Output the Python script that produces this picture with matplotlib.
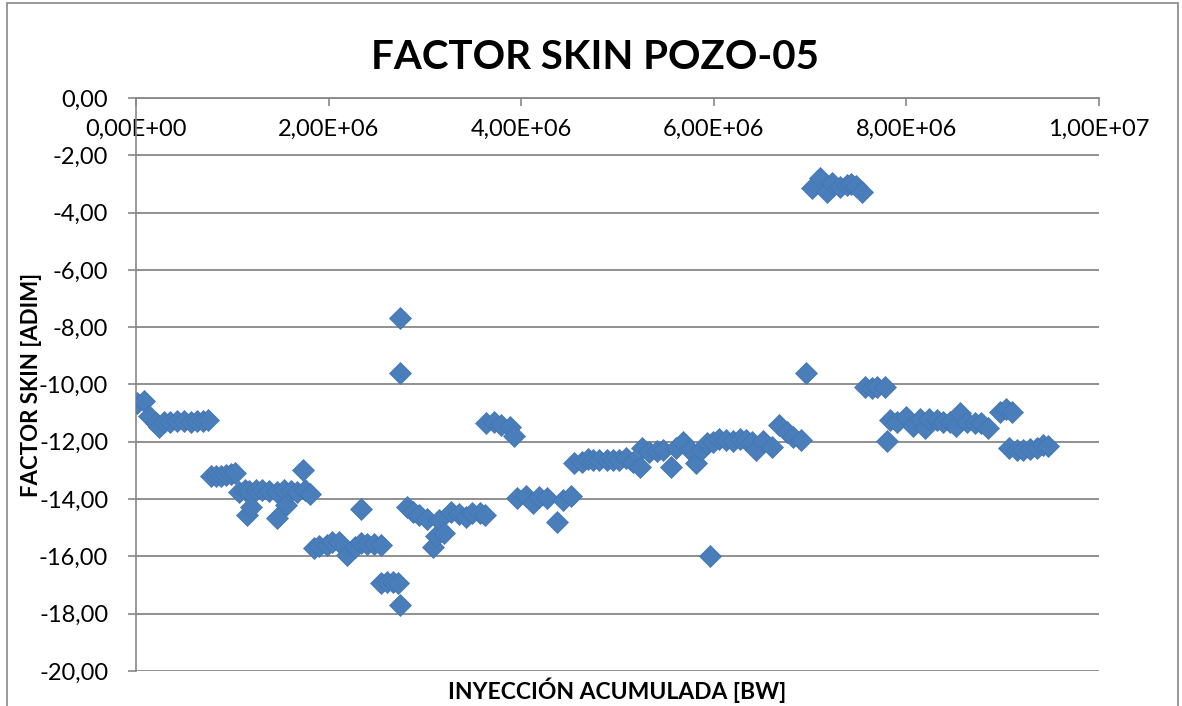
import numpy as np
import matplotlib
matplotlib.use('Agg')
import matplotlib.pyplot as plt
from matplotlib.ticker import FuncFormatter, MultipleLocator
from matplotlib.patches import Rectangle

plt.rcParams['font.family'] = ['Lato', 'DejaVu Sans']

# inyeccion acumulada en millones de barriles de agua
iny_mmbw = [0.01, 0.08, 0.14, 0.21, 0.24, 0.29, 0.35, 0.43, 0.50, 0.57, 0.63, 0.70, 0.75,
            0.78, 0.83, 0.88, 0.94, 0.99, 1.03,
            1.07, 1.13, 1.17, 1.15, 1.20, 1.25, 1.31, 1.38, 1.46, 1.47, 1.54, 1.56, 1.61, 1.67,
            1.73, 1.76, 1.81,
            1.85, 1.90, 1.98, 2.04, 2.11, 2.19, 2.27, 2.34, 2.34, 2.40, 2.47, 2.55,
            2.55, 2.61, 2.67, 2.72, 2.74, 2.74, 2.74,
            2.82, 2.88, 2.94, 3.02, 3.08, 3.12, 3.15, 3.20, 3.27, 3.36, 3.43, 3.49, 3.57, 3.63,
            3.64, 3.72, 3.79, 3.88, 3.93,
            3.96, 4.05, 4.12, 4.19, 4.27, 4.37, 4.43, 4.52,
            4.55, 4.63, 4.69, 4.75, 4.81, 4.89, 4.95, 5.02, 5.09, 5.16, 5.23, 5.26, 5.33, 5.41,
            5.47, 5.56, 5.61, 5.68, 5.75, 5.82, 5.87, 5.93, 5.96, 5.99, 6.06, 6.13, 6.20, 6.27,
            6.34, 6.40, 6.44, 6.51, 6.61, 6.68, 6.76, 6.82, 6.91,
            6.96, 7.02, 7.10, 7.18, 7.23, 7.31, 7.38, 7.43, 7.48, 7.54,
            7.57, 7.64, 7.70, 7.78, 7.80, 7.83, 7.90, 8.00, 8.07, 8.14, 8.19, 8.24, 8.32, 8.38,
            8.45, 8.52, 8.56, 8.63, 8.71, 8.78, 8.85, 8.97, 9.04, 9.10, 9.07, 9.15, 9.21, 9.28,
            9.36, 9.42, 9.47]

skin = [-10.63, -10.57, -11.10, -11.35, -11.47, -11.30, -11.30, -11.28, -11.28, -11.30, -11.28, -11.28, -11.25,
        -13.20, -13.20, -13.18, -13.15, -13.12, -13.10,
        -13.75, -13.70, -13.72, -14.55, -14.28, -13.70, -13.68, -13.72, -14.65, -13.75, -13.70, -14.20, -13.72, -13.75,
        -13.00, -13.70, -13.82,
        -15.72, -15.65, -15.60, -15.50, -15.50, -15.95, -15.67, -14.35, -15.55, -15.58, -15.57, -15.60,
        -16.92, -16.90, -16.90, -16.92, -17.70, -7.67, -9.59,
        -14.27, -14.45, -14.55, -14.70, -15.67, -15.30, -14.72, -15.20, -14.45, -14.52, -14.62, -14.50, -14.48, -14.55,
        -11.33, -11.30, -11.41, -11.50, -11.80,
        -13.96, -13.90, -14.14, -13.92, -13.96, -14.80, -14.03, -13.90,
        -12.74, -12.72, -12.60, -12.62, -12.64, -12.64, -12.64, -12.62, -12.57, -12.72, -12.87, -12.23, -12.35, -12.33,
        -12.30, -12.87, -12.20, -12.00, -12.28, -12.74, -12.30, -12.05, -16.00, -12.00, -11.90, -11.95, -11.98, -11.92,
        -11.95, -12.00, -12.30, -11.98, -12.17, -11.41, -11.65, -11.83, -11.94,
        -9.60, -3.15, -2.80, -3.28, -2.95, -3.10, -3.04, -3.00, -3.08, -3.28,
        -10.10, -10.12, -10.09, -10.08, -11.97, -11.24, -11.30, -11.15, -11.45, -11.20, -11.52, -11.20, -11.25, -11.30,
        -11.30, -11.45, -11.00, -11.30, -11.35, -11.35, -11.52, -10.96, -10.85, -10.95, -12.20, -12.30, -12.30, -12.25,
        -12.22, -12.10, -12.15]

x = np.array(iny_mmbw) * 1e6
y = np.array(skin)

gris = '#878787'
azul = '#4a7ebb'

fig = plt.figure(figsize=(11.82, 7.06), dpi=100)
ax = fig.add_axes([0.1150, 0.0496, 0.8147, 0.8116])

ax.plot(x, y, 'D', ms=11, color=azul, markeredgecolor='#4274b3', markeredgewidth=0.5,
        linestyle='none', zorder=3)

ax.set_xlim(0, 1e7)
ax.set_ylim(-20, 0)
ax.xaxis.set_major_locator(MultipleLocator(2e6))
ax.yaxis.set_major_locator(MultipleLocator(2))
ax.xaxis.set_major_formatter(FuncFormatter(lambda v, p: f'{v:.2E}'.replace('.', ',')))
ax.yaxis.set_major_formatter(FuncFormatter(lambda v, p: f'{v:.2f}'.replace('.', ',')))

# eje x cruza en y=0 (arriba), etiquetas debajo de la linea
ax.tick_params(axis='x', top=True, labeltop=True, bottom=False, labelbottom=False,
               direction='in', length=6, width=1.2, color=gris, pad=-30, labelsize=17)
ax.tick_params(axis='y', direction='out', length=6, width=1.2, color=gris, pad=14, labelsize=17)

ax.grid(axis='y', color=gris, linewidth=1.3)
ax.set_axisbelow(True)
for s in ['right', 'bottom']:
    ax.spines[s].set_visible(False)
ax.spines['left'].set_color(gris)
ax.spines['left'].set_linewidth(1.2)
ax.spines['top'].set_color(gris)
ax.spines['top'].set_linewidth(1.3)

ax.set_ylabel('FACTOR SKIN [ADIM]', fontsize=16, fontweight='bold')
ax.yaxis.set_label_coords(-0.098, 0.5)
fig.text(0.522, 0.022, 'INYECCIÓN ACUMULADA [BW]', ha='center', va='center',
         fontsize=16.5, fontweight='bold')
fig.text(0.503, 0.919, 'FACTOR SKIN POZO-05', ha='center', va='center',
         fontsize=29, fontweight='bold')

# marco del grafico
fig.patches.append(Rectangle((7 / 1182, -0.05), 1171 / 1182, 1.046, transform=fig.transFigure,
                             fill=False, edgecolor=gris, linewidth=1.2))

fig.savefig('out.png', dpi=100)
